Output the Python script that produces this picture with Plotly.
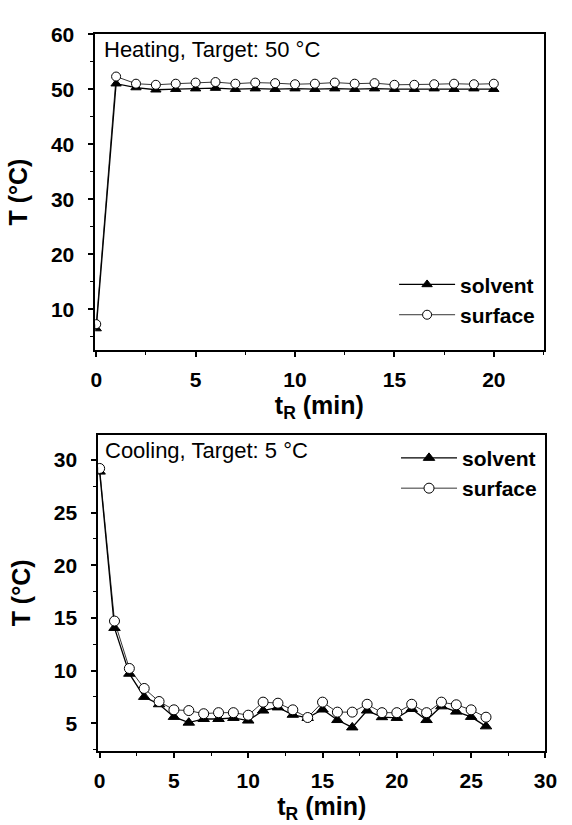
import plotly.graph_objects as go

# ---------------- data ----------------
heat_t = list(range(0, 21))
heat_solvent = [6.5, 51.0, 50.3, 49.9, 50.0, 50.1, 50.2, 50.0, 50.1, 50.0, 50.1,
                50.0, 50.1, 50.0, 50.1, 50.0, 50.0, 50.1, 50.0, 50.1, 50.0]
heat_surface = [7.3, 52.3, 51.0, 50.8, 51.0, 51.2, 51.3, 51.0, 51.2, 51.1, 50.9,
                51.0, 51.2, 51.0, 51.1, 50.8, 50.8, 50.9, 51.0, 50.9, 51.0]

cool_t = list(range(0, 27))
cool_solvent = [28.9, 14.05, 9.7, 7.5, 6.8, 5.6, 5.05, 5.4, 5.4, 5.5, 5.25,
                6.2, 6.5, 5.8, 5.5, 6.3, 5.3, 4.6, 6.2, 5.57, 5.5,
                6.35, 5.3, 6.6, 6.1, 5.6, 4.7]
cool_surface = [29.2, 14.7, 10.2, 8.3, 7.06, 6.27, 6.2, 5.9, 6.0, 6.0, 5.76,
                7.0, 6.9, 6.27, 5.54, 7.0, 6.05, 6.05, 6.8, 6.0, 6.0,
                6.8, 6.0, 7.0, 6.75, 6.27, 5.57]

heat_label = "Heating, Target: 50 °C"
cool_label = "Cooling, Target: 5 °C"
x_title = "t<sub>R</sub> (min)"
y_title = "T (°C)"

# ---------------- figure ----------------
W, H = 572, 825
FONT = "Liberation Sans, Arial, sans-serif"

def px_x(a, b):
    return [a / W, b / W]

def px_y(top, bottom):
    return [1 - bottom / H, 1 - top / H]

fig = go.Figure()

tri = dict(symbol="triangle-up", color="black", size=9, line=dict(color="black", width=1))
circ = dict(symbol="circle", color="white", size=9, line=dict(color="black", width=1))

fig.add_trace(go.Scatter(x=heat_t, y=heat_solvent, mode="lines+markers", name="solvent",
                         line=dict(color="black", width=1.3), marker=tri,
                         xaxis="x", yaxis="y", legend="legend"))
fig.add_trace(go.Scatter(x=heat_t, y=heat_surface, mode="lines+markers", name="surface",
                         line=dict(color="black", width=0.8), marker=circ,
                         xaxis="x", yaxis="y", legend="legend"))
fig.add_trace(go.Scatter(x=cool_t, y=cool_solvent, mode="lines+markers", name="solvent",
                         line=dict(color="black", width=1.3), marker=dict(tri, size=10),
                         xaxis="x2", yaxis="y2", legend="legend2"))
fig.add_trace(go.Scatter(x=cool_t, y=cool_surface, mode="lines+markers", name="surface",
                         line=dict(color="black", width=0.8), marker=dict(circ, size=10),
                         xaxis="x2", yaxis="y2", legend="legend2"))

tickfont = dict(family=FONT, size=21, color="black", weight=700)
titlefont = dict(family=FONT, size=25, color="black", weight=700)
legfont = dict(family=FONT, size=21, color="black", weight=700)
annfont = dict(family=FONT, size=22, color="black")

def xaxis(domain, anchor, rng, dtick):
    return dict(domain=domain, anchor=anchor, range=rng, dtick=dtick, tick0=0,
                showline=True, linecolor="black", linewidth=1.5, mirror=True,
                ticks="outside", ticklen=5, tickwidth=1.5, tickcolor="black",
                minor=dict(ticks="outside", ticklen=3, tickwidth=1, tickcolor="black",
                           dtick=dtick / 2, tick0=0),
                showgrid=False, zeroline=False, tickfont=tickfont,
                ticklabelstandoff=5,
                title=dict(text=x_title, font=titlefont, standoff=6))

def yaxis(domain, anchor, rng, dtick):
    return dict(domain=domain, anchor=anchor, range=rng, dtick=dtick, tick0=0,
                showline=True, linecolor="black", linewidth=1.5, mirror=True,
                ticks="outside", ticklen=5, tickwidth=1.5, tickcolor="black",
                minor=dict(ticks="outside", ticklen=3, tickwidth=1, tickcolor="black",
                           dtick=dtick / 2, tick0=0),
                showgrid=False, zeroline=False, tickfont=tickfont,
                ticklabelstandoff=10,
                title=dict(text=y_title, font=titlefont, standoff=16))

fig.update_layout(
    width=W, height=H,
    margin=dict(l=0, r=0, t=0, b=0),
    paper_bgcolor="white", plot_bgcolor="white",
    font=dict(family=FONT, color="black"),
    xaxis=xaxis(px_x(93, 555), "y", [-0.05, 22.5], 5),
    yaxis=yaxis(px_y(22.5, 343), "x", [2.6, 60], 10),
    xaxis2=xaxis(px_x(96, 557), "y2", [-0.1, 30], 5),
    yaxis2=yaxis(px_y(429, 750), "x2", [2.35, 32.4], 5),
    legend=dict(x=401 / W, y=1 - 256 / H, xanchor="left", yanchor="top",
                bgcolor="rgba(0,0,0,0)", borderwidth=0, itemwidth=56,
                font=legfont, tracegroupgap=0),
    legend2=dict(x=403 / W, y=1 - 432 / H, xanchor="left", yanchor="top",
                 bgcolor="rgba(0,0,0,0)", borderwidth=0, itemwidth=56,
                 font=legfont, tracegroupgap=0),
    annotations=[
        dict(text=heat_label, xref="paper", yref="paper", x=100 / W, y=1 - 38 / H,
             xanchor="left", yanchor="middle", showarrow=False, font=annfont),
        dict(text=cool_label, xref="paper", yref="paper", x=101 / W, y=1 - 445 / H,
             xanchor="left", yanchor="middle", showarrow=False, font=annfont),
    ],
)

fig.write_html("out.html", config={"displayModeBar": False},
               post_script="document.body.style.margin='0px';")
